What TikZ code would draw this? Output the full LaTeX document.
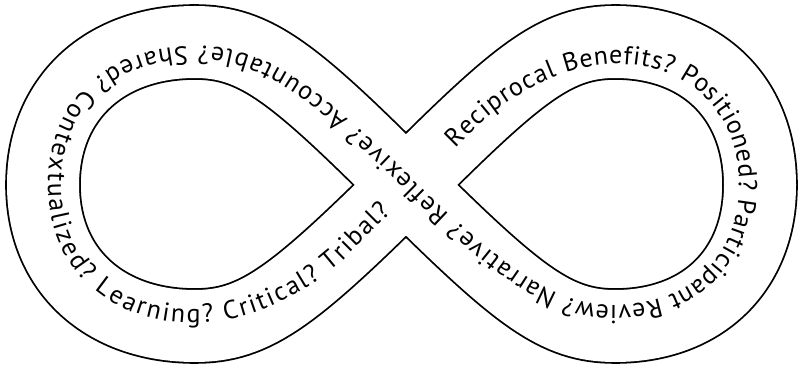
\documentclass[tikz,border=0pt]{standalone}
\usepackage{fontspec}
\newfontfamily\ringfont{PT Sans}
\usetikzlibrary{decorations.text}
\begin{document}
\begin{tikzpicture}[x=1pt,y=1pt,
  bandouter/.style={draw=black, line width=75.6pt},
  bandinner/.style={draw=white, line width=72pt}]
\useasboundingbox (0,0) rectangle (801,369);
\coordinate (C) at (406,184);
\coordinate (TL) at (195,327); \coordinate (L) at (43,184); \coordinate (BL) at (195,43);
\coordinate (TR) at (615,327); \coordinate (R) at (760,184); \coordinate (BR) at (615,43);
\foreach \sty in {bandouter,bandinner}{
\path[\sty] (C) .. controls (519,297) and (556,327) .. (TR)
  .. controls (703,327) and (760,270) .. (R)
  .. controls (760,99) and (703,43) .. (BR)
  .. controls (556,43) and (519,72) .. (C)
  .. controls (293,297) and (255,327) .. (TL)
  .. controls (104,327) and (43,270) .. (L)
  .. controls (43,99) and (104,43) .. (BL)
  .. controls (255,43) and (293,72) .. cycle;
}
\coordinate (S) at (449,227); \coordinate (E) at (385,163);
\path[decorate, decoration={text along path, text align=fit to path, raise=-9pt,
  text={|\ringfont\fontsize{26}{26}\selectfont|Reciprocal Benefits? Positioned? Participant Review? Narrative? Reflexive? Accountable? Shared? Contextualized? Learning? Critical? Tribal?}}]
 (S) -- (472,250) .. controls (500,278) and (561,314) .. (615,314)
  .. controls (695,314) and (748,262) .. (748,184)
  .. controls (748,107) and (695,55) .. (615,55)
  .. controls (561,55) and (512,78) .. (C)
  .. controls (300,290) and (250,314) .. (195,314)
  .. controls (112,314) and (57,262) .. (57,184)
  .. controls (57,107) and (112,55) .. (195,55)
  .. controls (250,55) and (312,90) .. (340,118) -- (E);
\end{tikzpicture}
\end{document}
